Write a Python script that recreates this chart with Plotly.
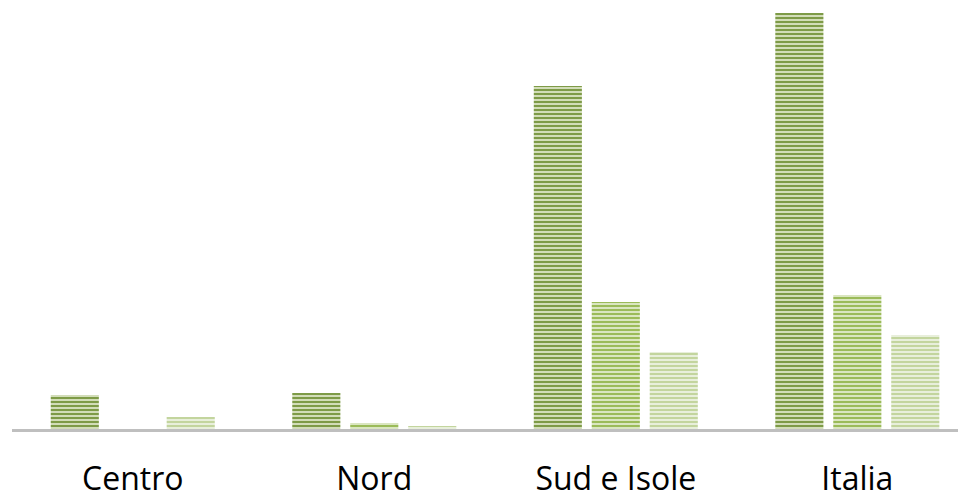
import plotly.graph_objects as go

categories = ["Centro", "Nord", "Sud e Isole", "Italia"]
series_1 = [34, 36, 343, 416]
series_2 = [0, 6, 127, 134]
series_3 = [12, 3, 77, 94]

styles = [
    ("#7e9b47", "#dbe5c4"),
    ("#9bbb59", "#e1ebcb"),
    ("#c3d59e", "#edf2e2"),
]

fig = go.Figure()
for vals, (fg, bg) in zip([series_1, series_2, series_3], styles):
    fig.add_trace(go.Bar(
        x=categories, y=vals,
        marker=dict(color=bg, line=dict(width=0),
                    pattern=dict(shape="-", fgcolor=fg, bgcolor=bg,
                                 size=4, solidity=0.55, fillmode="replace")),
        showlegend=False, hoverinfo="skip",
    ))

fig.update_layout(
    width=966, height=492,
    margin=dict(l=4, r=8, t=0, b=71),
    paper_bgcolor="white", plot_bgcolor="white",
    barmode="group", bargap=0.28, bargroupgap=0.17,
    xaxis=dict(range=[-0.5, 3.45], showline=True, linecolor="#bfbfbf", linewidth=3,
               ticks="", showgrid=False, ticklabelstandoff=20, automargin=False,
               tickfont=dict(family="Open Sans, sans-serif", size=32, color="#000000")),
    yaxis=dict(range=[0, 421], visible=False, showgrid=False, zeroline=False,
               automargin=False),
)

fig.write_html("out.html")
